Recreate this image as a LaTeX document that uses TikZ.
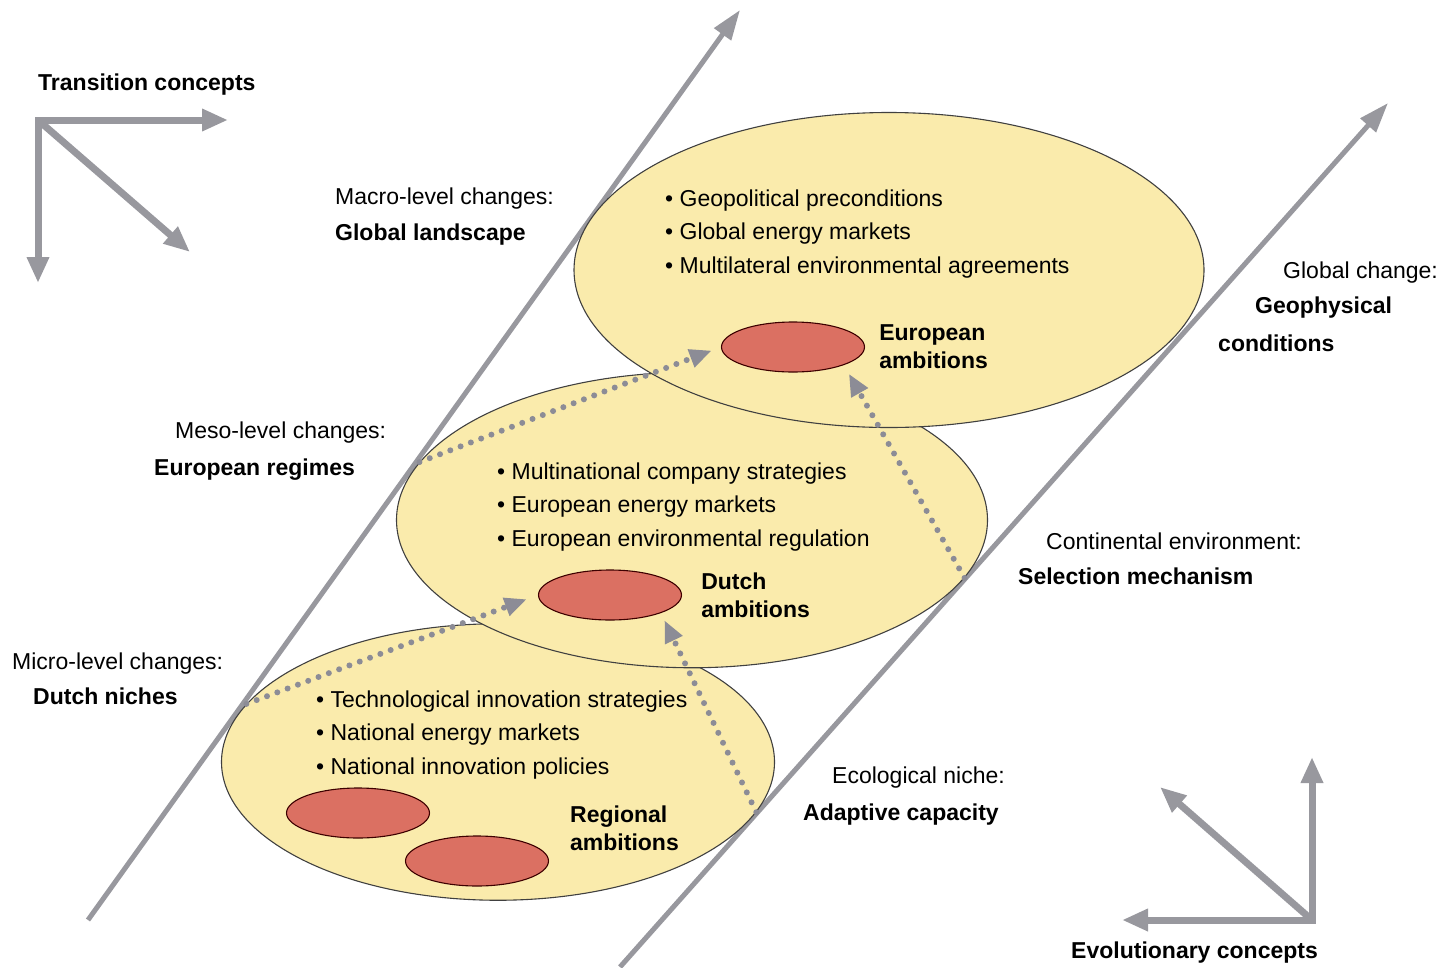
\documentclass[tikz,border=0pt]{standalone}
\usepackage{fontspec}
\setmainfont{Liberation Sans}
\usetikzlibrary{positioning,shapes.geometric,arrows.meta}
\definecolor{paleyellow}{RGB}{250,235,172}
\definecolor{ambitionred}{RGB}{219,112,98}
\definecolor{arrowgray}{RGB}{152,152,158}
\definecolor{dotgray}{RGB}{140,140,150}
\tikzset{
  level ellipse/.style={
    ellipse,
    fill=paleyellow,
    draw=black!75,
    line width=1.1pt,
    inner sep=0pt,
    minimum width={#1pt},
    minimum height={#1pt/2},
  },
  ambition/.style={
    ellipse,
    fill=ambitionred,
    draw=black!60!red!60!black,
    line width=1.1pt,
    inner sep=0pt,
    minimum width=143pt,
    minimum height=50pt,
  },
  boundary/.style={
    draw=arrowgray,
    line width=5pt,
    -{Triangle[length=30pt,width=20pt]},
  },
  concept arrow/.style={
    draw=arrowgray,
    line width=7pt,
    line join=miter,
    >={Triangle[length=26pt,width=21pt]},
  },
  drift/.style={
    draw=dotgray,
    line width=6pt,
    line cap=round,
    dash pattern=on 0pt off 11pt,
    -{Triangle[length=22pt,width=18pt]},
  },
  level note/.style={
    anchor=west,
    inner sep=0pt,
    text height=17pt,
    text depth=5pt,
    font=\fontsize{23}{28}\selectfont,
  },
  level name/.style={
    level note,
    font=\fontsize{23}{28}\selectfont\bfseries,
  },
  bullets/.style={
    anchor=west,
    align=left,
    inner sep=0pt,
    font=\fontsize{23}{33.5}\selectfont,
  },
  ambition label/.style={
    anchor=west,
    align=left,
    inner sep=0pt,
    font=\fontsize{23}{28}\selectfont\bfseries,
  },
}
\begin{document}
\begin{tikzpicture}[x=1pt,y=-1pt]
  \useasboundingbox (0,0) rectangle (1454,967);

  % diagonal borders
  \coordinate (left start) at (88,920);
  \coordinate (left end) at (740,10);
  \coordinate (right start) at (620,967);
  \coordinate (right end) at (1388,103);
  \draw [boundary] (left start) -- (left end);
  \draw [boundary] (right start) -- (right end);

  % levels
  \node [level ellipse=553] (niches) at (498,762) {};
  \node [ambition] (region a) at (358,813) {};
  \node [ambition] (region b) at (477,861) {};
  \node [level ellipse=591] (regimes) at (692,520) {};
  \node [ambition] (dutch) at (610,595) {};
  \node [level ellipse=630] (landscape) at (889,270) {};
  \node [ambition] (euro) at (793,347) {};

  \node [bullets] (landscape list) at (665,234)
    {• Geopolitical preconditions\\ • Global energy markets\\ • Multilateral environmental agreements};
  \node [bullets] (regimes list) at (497,507)
    {• Multinational company strategies\\ • European energy markets\\ • European environmental regulation};
  \node [bullets] (niches list) at (316,735)
    {• Technological innovation strategies\\ • National energy markets\\ • National innovation policies};

  \node [ambition label, right=14pt of euro] (euro label) {European\\ambitions};
  \node [ambition label, right=19pt of dutch] (dutch label) {Dutch\\ambitions};
  \node [ambition label] (region label) at (570,828) {Regional\\ambitions};

  % left side
  \node [level note] (macro) at (335,198) {Macro-level changes:};
  \node [level name] (macro name) at (335,234) {Global landscape};
  \node [level note] (meso) at (175,432) {Meso-level changes:};
  \node [level name] (meso name) at (154,469) {European regimes};
  \node [level note] (micro) at (12,663) {Micro-level changes:};
  \node [level name] (micro name) at (33,698) {Dutch niches};

  % right side
  \node [level note] (global) at (1283,272) {Global change:};
  \node [level name] (geo a) at (1255,307) {Geophysical};
  \node [level name] (geo b) at (1218,345) {conditions};
  \node [level note] (continental) at (1046,543) {Continental environment:};
  \node [level name] (selection) at (1018,578) {Selection mechanism};
  \node [level note] (ecological) at (832,777) {Ecological niche:};
  \node [level name] (adaptive) at (803,814) {Adaptive capacity};

  % upward moves
  \draw [drift, shorten >=10pt] (regimes.168) -- (euro.west);
  \draw [drift, shorten >=10pt] (regimes.-12) -- (euro.south east);
  \draw [drift, shorten >=12pt] (niches.167) -- (dutch.west);
  \draw [drift, shorten >=8pt] (niches.-11) -- (dutch.south east);

  % concept axes
  \node [level name] (transition) at (38,84) {Transition concepts};
  \coordinate (tc corner) at (38,120);
  \coordinate (tc right) at (228,120);
  \coordinate (tc down) at (38,283);
  \coordinate (tc diag) at (190,252);
  \draw [concept arrow, <->] (tc right) -- (tc corner) -- (tc down);
  \draw [concept arrow, ->] (tc corner) -- (tc diag);

  \node [level name] (evolutionary) at (1071,952) {Evolutionary concepts};
  \coordinate (ec corner) at (1312,920);
  \coordinate (ec up) at (1312,757);
  \coordinate (ec left) at (1122,920);
  \coordinate (ec diag) at (1160,787);
  \draw [concept arrow, <->] (ec up) -- (ec corner) -- (ec left);
  \draw [concept arrow, ->] (ec corner) -- (ec diag);
\end{tikzpicture}
\end{document}
